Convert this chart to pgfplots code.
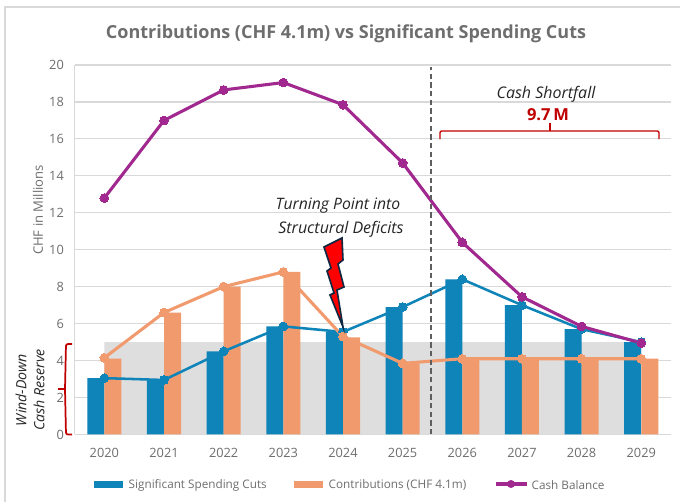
\documentclass[border=0pt]{standalone}
\usepackage{pgfplots}
\pgfplotsset{compat=1.18}
\usepackage{fontspec}
\setmainfont{Open Sans}
\definecolor{cblue}{HTML}{0F84B8}
\definecolor{corange}{HTML}{F09A6E}
\definecolor{cpurple}{HTML}{A0288F}
\definecolor{cred}{HTML}{C00000}
\definecolor{cgrid}{HTML}{D9D9D9}
\definecolor{cband}{HTML}{DEDEDE}
\definecolor{ctext}{HTML}{6E6E6E}
\definecolor{cnavy}{HTML}{0E2841}
\begin{document}
\begin{tikzpicture}
\path[use as bounding box] (0,0) rectangle (510pt,375.75pt);
\fill[white] (0,0) rectangle (510pt,375.75pt);
\begin{axis}[
  at={(55.9pt,49.9pt)},anchor=south west,
  scale only axis,width=447.4pt,height=277.1pt,
  xmin=-0.5,xmax=9.5,ymin=0,ymax=20,
  ytick={0,2,...,20},xtick={0,...,9},
  xticklabels={2020,2021,2022,2023,2024,2025,2026,2027,2028,2029},
  axis x line*=bottom,axis y line*=left,
  axis line style={cgrid,line width=1pt,-},
  major tick style={draw=none},
  ymajorgrids,
  major grid style={cgrid,line width=0.9pt},
  tick label style={font=\fontsize{9.6}{11}\selectfont,text=ctext},
  /pgf/number format/assume math mode=true,
  xticklabel style={yshift=-6.5pt},
  yticklabel style={xshift=-4.5pt},
  clip=false,
]
\addplot[draw=none,fill=cband,forget plot] coordinates {(0,0)(0,5)(9,5)(9,0)} \closedcycle;
\addplot[ybar,bar width=12.75pt,bar shift=-6.4pt,fill=cblue,draw=none,forget plot] coordinates {(0,3.05)(1,2.95)(2,4.5)(3,5.85)(4,5.55)(5,6.9)(6,8.4)(7,7.0)(8,5.7)(9,5.0)};
\addplot[ybar,bar width=12.75pt,bar shift=6.4pt,fill=corange,draw=none,forget plot] coordinates {(0,4.1)(1,6.6)(2,8.0)(3,8.8)(4,5.25)(5,3.85)(6,4.1)(7,4.1)(8,4.1)(9,4.1)};
\addplot[cblue,line width=1.9pt,mark=*,mark size=3.3pt,mark options={fill=cblue,draw=cblue,line width=0pt},forget plot] coordinates {(0,3.05)(1,2.95)(2,4.5)(3,5.85)(4,5.55)(5,6.9)(6,8.4)(7,7.0)(8,5.7)(9,5.0)};
\addplot[corange,line width=2.3pt,mark=*,mark size=3.3pt,mark options={fill=corange,draw=corange,line width=0pt},forget plot] coordinates {(0,4.15)(1,6.6)(2,8.0)(3,8.8)(4,5.3)(5,3.85)(6,4.1)(7,4.1)(8,4.1)(9,4.1)};
\addplot[cpurple,line width=2.3pt,mark=*,mark size=3.3pt,mark options={fill=cpurple,draw=cpurple,line width=0pt},forget plot] coordinates {(0,12.8)(1,17.0)(2,18.65)(3,19.05)(4,17.85)(5,14.7)(6,10.4)(7,7.45)(8,5.85)(9,4.95)};
\addplot[ctext!85!black,line width=1.3pt,dash pattern=on 4pt off 2.5pt,forget plot] coordinates {(5.47,0)(5.47,19.9)};
\end{axis}
\begin{scope}[shift={(0pt,375.75pt)},x=0.75pt,y=-0.75pt]
\draw[cgrid,line width=1pt] (5,503) -- (5,7) -- (682,7);
\node[font=\fontsize{13.5}{16}\selectfont\bfseries,text=ctext] at (346,34) {Contributions (CHF 4.1m) vs Significant Spending Cuts};
\node[rotate=90,font=\fontsize{9.8}{11}\selectfont,text=ctext] at (38,210) {CHF in Millions};
\node[font=\fontsize{12}{14}\selectfont\itshape,text=black!85] at (546,94) {Cash Shortfall};
\node[font=\fontsize{12.4}{14}\selectfont\bfseries,text=cred] at (548,115) {9.7\,M};
\draw[cred,line width=1pt,rounded corners=1pt] (440,139) -- (440,131) -- (659,131) -- (659,139);
\draw[cred,line width=1pt] (550,131) -- (550,123);
\node[font=\fontsize{11.8}{14}\selectfont\itshape,text=black!85] at (338,206) {Turning Point into};
\node[font=\fontsize{12}{14}\selectfont\itshape,text=black!85] at (341,229) {Structural Deficits};
\draw[cnavy,line width=1.2pt,fill=red,line join=miter] (342,238) -- (324,247) -- (331,268) -- (327,271) -- (334,293) -- (330,295) -- (343,327) -- (337,290) -- (344,287) -- (338,264) -- (343,260) -- cycle;
\draw[cred,line width=1.3pt,rounded corners=1.5pt] (72,344) -- (66,344) -- (65,389) -- (66,434.5) -- (72,434.5);
\draw[cred,line width=1.3pt] (65,389) -- (58,389);
\node[rotate=90,font=\fontsize{10.6}{12}\selectfont\itshape,text=black!85] at (21,390) {Wind-Down};
\node[rotate=90,font=\fontsize{10.6}{12}\selectfont\itshape,text=black!85] at (39,390) {Cash Reserve};
\fill[cblue] (94,480.5) rectangle (123,487.5);
\node[anchor=west,font=\fontsize{8.8}{11}\selectfont,text=ctext] at (124,485) {Significant Spending Cuts};
\fill[corange] (294,480.5) rectangle (323,487.5);
\node[anchor=west,font=\fontsize{8.8}{11}\selectfont,text=ctext] at (324,485) {Contributions (CHF 4.1m)};
\draw[cpurple,line width=2.3pt] (496,484) -- (527,484);
\fill[cpurple] (511,484) circle (4);
\node[anchor=west,font=\fontsize{8.8}{11}\selectfont,text=ctext] at (527,485) {Cash Balance};
\end{scope}
\end{tikzpicture}
\end{document}
